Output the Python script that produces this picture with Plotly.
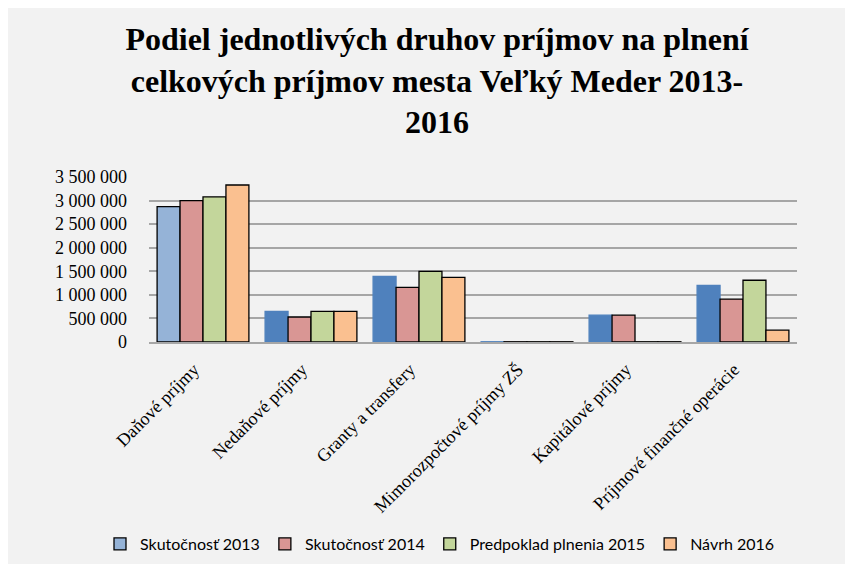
import plotly.graph_objects as go

categories = ["Daňové príjmy", "Nedaňové príjmy", "Granty a transfery",
              "Mimorozpočtové príjmy ZŠ", "Kapitálové príjmy", "Príjmové finančné operácie"]
series_names = ["Skutočnosť 2013", "Skutočnosť 2014", "Predpoklad plnenia 2015", "Návrh 2016"]
s2013 = [2870000, 650000, 1390000, 5000, 570000, 1200000]
s2014 = [3000000, 530000, 1160000, 5000, 570000, 910000]
s2015 = [3080000, 650000, 1500000, 5000, 5000, 1310000]
s2016 = [3330000, 650000, 1370000, 5000, 5000, 250000]
tick_vals = [0, 500000, 1000000, 1500000, 2000000, 2500000, 3000000, 3500000]
tick_text = ["0", "500 000", "1 000 000", "1 500 000", "2 000 000", "2 500 000", "3 000 000", "3 500 000"]

colors = ["#4F81BD", "#D99694", "#C3D69B", "#FAC090"]
series = [s2013, s2014, s2015, s2016]

SERIF = "Liberation Serif, Times New Roman, serif"

fig = go.Figure()
for i, (name, vals) in enumerate(zip(series_names, series)):
    if i == 0:
        mcolor = ["#95B3D7"] + [colors[0]] * (len(vals) - 1)
        lcolor = ["#000000"] + [colors[0]] * (len(vals) - 1)
    else:
        mcolor = colors[i]
        lcolor = "#000000"
    fig.add_trace(go.Bar(
        x=categories, y=vals, name=name,
        marker=dict(color=mcolor, line=dict(color=lcolor, width=1.3)),
    ))

# figure-frame pixel positions (page is offset by the 8px body margin)
L, R, T, B = 141, 789, 169, 334
W, H = R - L, B - T

fig.update_layout(
    width=853, height=564,
    margin=dict(l=L, r=853 - R, t=T, b=564 - B, autoexpand=False),
    font=dict(family=SERIF, color="#000000"),
    paper_bgcolor="#F2F2F2",
    plot_bgcolor="#F2F2F2",
    barmode="group", bargap=0.15, bargroupgap=0,
    title=dict(
        text="Podiel jednotlivých druhov príjmov na plnení<br>celkových príjmov mesta Veľký Meder 2013-<br>2016",
        x=429 / 853, xanchor="center", y=1 - 42 / 564, yanchor="top", yref="container",
        font=dict(family=SERIF, size=32, color="#000000", weight="bold"),
    ),
    showlegend=True,
    legend=dict(
        orientation="h", x=(92 - L) / W, xanchor="left", xref="paper",
        y=(B - 536) / H, yanchor="middle", yref="paper",
        font=dict(family="Lato", size=16, color="#000000"),
        bgcolor="rgba(0,0,0,0)", itemwidth=30, traceorder="normal",
    ),
)
fig.update_xaxes(
    tickangle=-45, tickfont=dict(family=SERIF, size=18, color="#000000"),
    showline=True, linecolor="#A6A6A6", linewidth=2, ticks="", automargin=False,
    ticklabelshift=-9, ticklabelstandoff=8,
)
fig.update_yaxes(
    range=[0, 3500000], tickvals=tick_vals, ticktext=tick_text,
    tickfont=dict(family=SERIF, size=18, color="#000000"),
    showgrid=True, gridcolor="#A6A6A6", gridwidth=2, zeroline=False,
    showline=False, ticks="", ticklabelstandoff=21, automargin=False,
)

fig.write_html("out.html")
